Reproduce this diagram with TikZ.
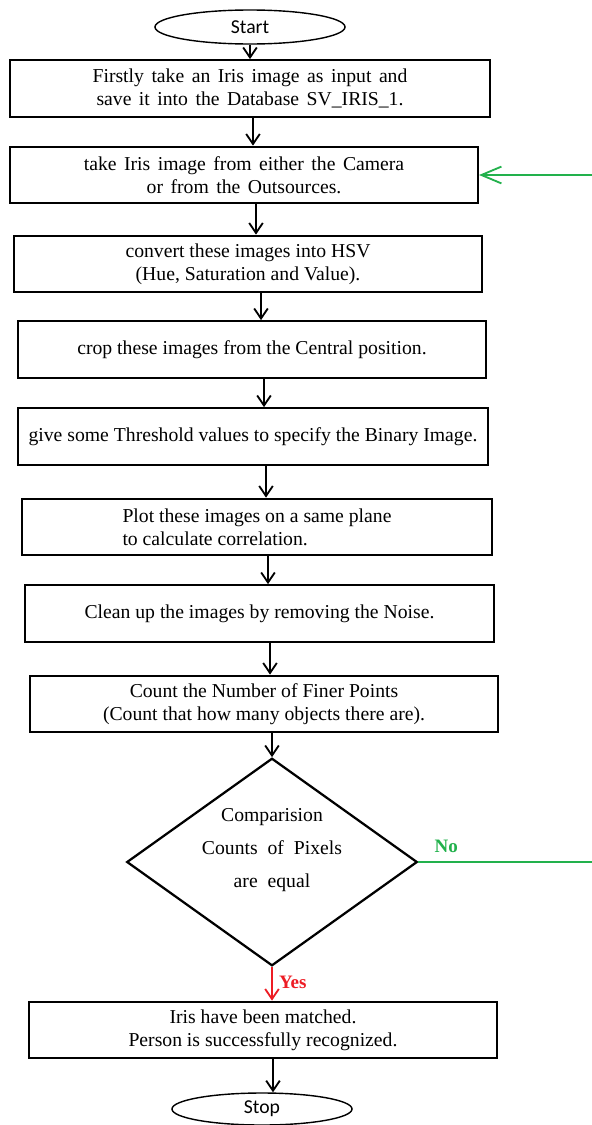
\documentclass[tikz,border=0pt]{standalone}
\usepackage{fontspec}
\setmainfont{Liberation Serif}
\newfontfamily\termfont{Carlito}
\usetikzlibrary{arrows.meta, positioning, shapes.geometric}
\definecolor{nogreen}{RGB}{34,177,76}
\definecolor{yesred}{RGB}{237,28,36}

\begin{document}
\begin{tikzpicture}[x=0.025cm, y=-0.025cm,
    box/.style={draw, line width=1.4pt, minimum height=1.42cm, align=center, font=\fontsize{14}{16.4}\selectfont, inner sep=2pt},
    widesp/.style={execute at begin node={\spaceskip=0.38em plus 0.1em\relax}},
    term/.style={draw, ellipse, line width=1pt, inner sep=0pt, font=\termfont\fontsize{14}{16}\selectfont},
    arr/.style={line width=1.3pt, -{Straight Barb[length=2.5mm, width=3.4mm, line width=1.3pt]}}]
        \useasboundingbox (0,0) rectangle (592,1125);
        % start
        \node[term, minimum width=4.75cm, minimum height=0.85cm] (start) at (250,27) {Start};
        % steps
        \node[box, widesp, minimum width=12cm] (b1) at (250,88.5) {Firstly take an Iris image as input and\\save it into the Database SV\_IRIS\_1.};
        \node[box, widesp, minimum width=11.7cm] (b2) at (244,175) {take Iris image from either the Camera\\or from the Outsources.};
        \node[box, minimum width=11.7cm] (b3) at (248,264) {convert these images into HSV\\(Hue, Saturation and Value).};
        \node[box, minimum width=11.7cm] (b4) at (252,349.5) {crop these images from the Central position.};
        \node[box, minimum width=11.75cm] (b5) at (253,436.5) {give some Threshold values to specify the Binary Image.};
        \node[box, minimum width=11.75cm, align=left] (b6) at (257,527) {Plot these images on a same plane\\to calculate correlation.};
        \node[box, minimum width=11.72cm] (b7) at (259.5,613.5) {Clean up the images by removing the Noise.};
        \node[box, minimum width=11.7cm] (b8) at (264,704) {Count the Number of Finer Points\\(Count that how many objects there are).};
        % decision
        \node[draw, diamond, line width=1.6pt, inner sep=0pt, aspect=1.4, minimum width=6.98cm, minimum height=4.98cm,
              align=center, font=\fontsize{14}{16.4}\selectfont] (dec) at (272,862)
              {Comparision\\[7pt]Counts~ of~ Pixels\\[7pt]are~ equal\\[4pt]};
        \node[box, minimum width=11.7cm] (b9) at (263,1030) {Iris have been matched.\\Person is successfully recognized.};
        % stop
        \node[term, minimum width=4.5cm, minimum height=0.8cm] (stop) at (262,1109) {Stop};
        % connectors
        \foreach \a/\b/\x in {start/b1/250, b1/b2/253, b2/b3/256, b3/b4/261, b4/b5/264,
                              b5/b6/266, b6/b7/268, b7/b8/270, b8/dec/272, b9/stop/273}
          \draw[arr] (\x,0 |- \a.south) -- (\x,0 |- \b.north);
        \draw[arr, yesred] (dec.south) -- (dec.south |- b9.north)
          node[pos=0.45, right=1pt, font=\bfseries\fontsize{13.5}{16}\selectfont] {Yes};
        % no branch
        \coordinate (noend) at (592,862);
        \coordinate (backin) at (592,175);
        \draw[nogreen, line width=1.3pt] (dec.east) -- (noend)
          node[pos=0.16, above=3pt, font=\bfseries\fontsize{13.5}{16}\selectfont] {No};
        \draw[nogreen, line width=1.3pt, -{Straight Barb[length=5mm, width=4.2mm, line width=1.3pt]}] (backin) -- (b2.east);
      \end{tikzpicture}
\end{document}
